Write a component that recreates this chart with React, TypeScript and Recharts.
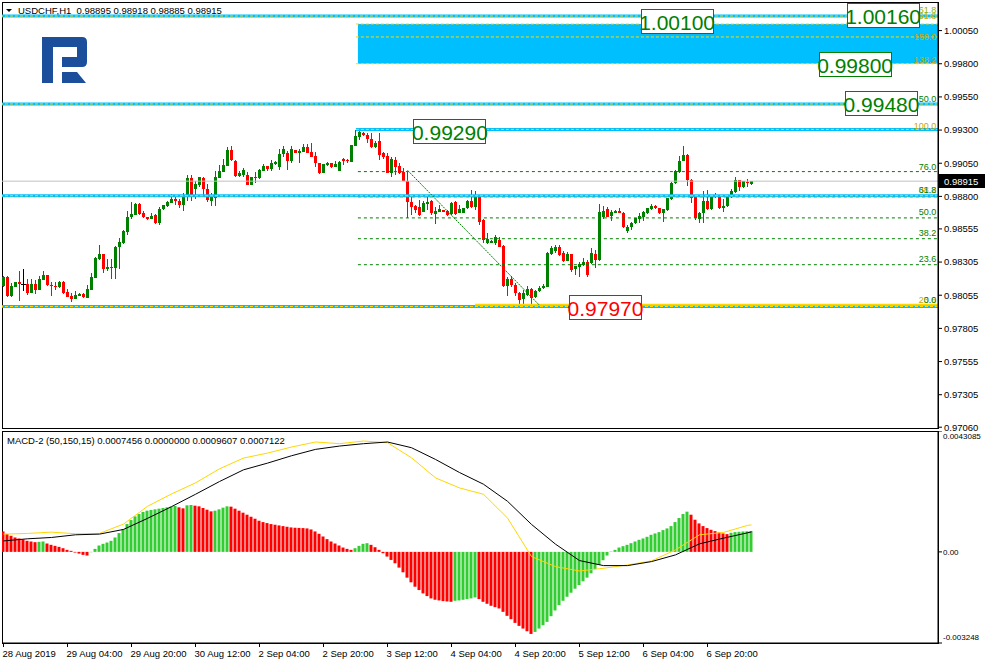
import React from 'react';
import {
  ComposedChart,
  Bar,
  Line,
  XAxis,
  YAxis,
  ReferenceLine,
  ReferenceArea,
  ReferenceDot,
  Cell,
} from 'recharts';

// ---- USDCHF H1 candles (28 Aug 12:00 .. 6 Sep 2019) ----
const symbol = 'USDCHF,H1';

const opens = [
  0.98123, 0.98191, 0.98047, 0.98115, 0.98153, 0.98138, 0.98138, 0.9807, 0.98138, 0.98093,
  0.98168, 0.98206, 0.9813, 0.98123, 0.98115, 0.98153, 0.98077, 0.98047, 0.98025, 0.98047,
  0.98062, 0.98032, 0.98093, 0.98183, 0.98327, 0.98365, 0.98251, 0.98259, 0.98259, 0.98418,
  0.98448, 0.98531, 0.98644, 0.9866, 0.98743, 0.98675, 0.98644, 0.98629, 0.9866, 0.98599,
  0.98705, 0.98728, 0.9875, 0.9878, 0.98765, 0.98735, 0.98811, 0.98939, 0.98856, 0.98886,
  0.98939, 0.98856, 0.98765, 0.98788, 0.98939, 0.98985, 0.9903, 0.99151, 0.99068, 0.98954,
  0.98962, 0.98962, 0.98886, 0.98947, 0.98939, 0.98992, 0.9903, 0.99007, 0.99045, 0.99022,
  0.99121, 0.99128, 0.99068, 0.99151, 0.99128, 0.99136, 0.99173, 0.99136, 0.99105, 0.99052,
  0.98977, 0.99037, 0.99052, 0.99022, 0.98992, 0.99083, 0.99075, 0.9906, 0.99181, 0.99249,
  0.99279, 0.99264, 0.99234, 0.99173, 0.99219, 0.99128, 0.99105, 0.98977, 0.99075, 0.9903,
  0.98985, 0.98916, 0.98758, 0.98728, 0.9872, 0.98682, 0.98743, 0.98765, 0.98667, 0.98682,
  0.98697, 0.9869, 0.98667, 0.98758, 0.98675, 0.98675, 0.98712, 0.98765, 0.9872, 0.98803,
  0.98622, 0.98448, 0.98448, 0.98448, 0.98471, 0.98425, 0.98123, 0.98176, 0.9813, 0.9807,
  0.98025, 0.98055, 0.981, 0.9804, 0.98085, 0.98108, 0.98115, 0.98365, 0.98387, 0.98418,
  0.98372, 0.98312, 0.98365, 0.98251, 0.98266, 0.98281, 0.98304, 0.98297, 0.98365, 0.98319,
  0.98644, 0.98705, 0.98652, 0.98675, 0.9869, 0.98675, 0.98539, 0.98569, 0.98599, 0.98629,
  0.98644, 0.98675, 0.98705, 0.98728, 0.98712, 0.98675, 0.98697, 0.9878, 0.98901, 0.98985,
  0.99068, 0.99113, 0.98924, 0.98796, 0.98629, 0.98675, 0.98765, 0.98705, 0.98796, 0.98811,
  0.98712, 0.98728, 0.98796, 0.98833, 0.98924, 0.98871, 0.98909, 0.98895,
];

const highs = [
  0.98198, 0.98198, 0.98145, 0.98153, 0.98236, 0.98251, 0.98176, 0.98176, 0.98168, 0.98198,
  0.98236, 0.98206, 0.98153, 0.98153, 0.9816, 0.9816, 0.981, 0.9807, 0.98085, 0.9807,
  0.9807, 0.9813, 0.98221, 0.98342, 0.98433, 0.98365, 0.98327, 0.98327, 0.98425, 0.98486,
  0.98546, 0.9869, 0.98758, 0.9875, 0.9875, 0.9869, 0.98644, 0.98675, 0.98667, 0.9872,
  0.98735, 0.98765, 0.98818, 0.98796, 0.9878, 0.98826, 0.98962, 0.98962, 0.98916, 0.98947,
  0.98947, 0.98894, 0.98826, 0.98992, 0.99037, 0.99083, 0.99173, 0.99181, 0.99075, 0.98992,
  0.99015, 0.98985, 0.98947, 0.98985, 0.99007, 0.99045, 0.9903, 0.99075, 0.99068, 0.99158,
  0.99181, 0.99143, 0.99181, 0.99151, 0.99158, 0.99196, 0.99196, 0.99204, 0.99136, 0.99052,
  0.99045, 0.9906, 0.99052, 0.99068, 0.99068, 0.9909, 0.99083, 0.99188, 0.99302, 0.99302,
  0.99287, 0.99279, 0.99279, 0.99219, 0.99279, 0.99136, 0.99128, 0.99098, 0.99098, 0.99052,
  0.99015, 0.98985, 0.98803, 0.98735, 0.98773, 0.98765, 0.98796, 0.98773, 0.9872, 0.98735,
  0.98697, 0.98697, 0.98758, 0.98765, 0.98735, 0.98712, 0.98773, 0.98849, 0.98841, 0.98811,
  0.98629, 0.98523, 0.98471, 0.98508, 0.98493, 0.98433, 0.98191, 0.98198, 0.98145, 0.98077,
  0.98093, 0.98123, 0.98108, 0.98093, 0.98123, 0.98138, 0.9838, 0.98425, 0.98433, 0.98433,
  0.98387, 0.9838, 0.98365, 0.98274, 0.98304, 0.98334, 0.98319, 0.9841, 0.98395, 0.98743,
  0.98728, 0.9872, 0.98697, 0.98697, 0.98712, 0.98682, 0.98584, 0.98607, 0.98637, 0.98675,
  0.9869, 0.98712, 0.98743, 0.98735, 0.98712, 0.98705, 0.98788, 0.98909, 0.99, 0.99105,
  0.99181, 0.99121, 0.98932, 0.98803, 0.98682, 0.98841, 0.98849, 0.98803, 0.98826, 0.98811,
  0.9878, 0.98796, 0.98856, 0.98947, 0.98924, 0.98916, 0.98932, 0.98918,
];

const lows = [
  0.98115, 0.9804, 0.9804, 0.98115, 0.98009, 0.98085, 0.98055, 0.9807, 0.98062, 0.98093,
  0.98168, 0.98123, 0.98047, 0.98093, 0.98108, 0.98062, 0.9804, 0.98002, 0.98025, 0.98047,
  0.98032, 0.98032, 0.98093, 0.98183, 0.98319, 0.98221, 0.98236, 0.98176, 0.98176, 0.98251,
  0.9844, 0.98508, 0.98629, 0.9866, 0.9866, 0.98637, 0.98622, 0.98629, 0.98591, 0.98584,
  0.98697, 0.9872, 0.9875, 0.98735, 0.98712, 0.9869, 0.98765, 0.98765, 0.9878, 0.98871,
  0.98811, 0.98758, 0.98728, 0.98728, 0.98939, 0.98985, 0.9903, 0.99068, 0.98947, 0.98947,
  0.98947, 0.98886, 0.98886, 0.98901, 0.98932, 0.98992, 0.98992, 0.98992, 0.99037, 0.99,
  0.99098, 0.99, 0.99052, 0.99128, 0.99052, 0.99136, 0.99128, 0.99098, 0.99022, 0.98969,
  0.98977, 0.9903, 0.99015, 0.99022, 0.98992, 0.99037, 0.99052, 0.9906, 0.99181, 0.99226,
  0.99257, 0.99204, 0.99166, 0.99166, 0.99075, 0.99083, 0.98977, 0.98947, 0.98962, 0.98969,
  0.98916, 0.98637, 0.9866, 0.98675, 0.98652, 0.98682, 0.98697, 0.9866, 0.98591, 0.98682,
  0.98682, 0.98652, 0.9866, 0.9866, 0.98675, 0.98675, 0.98705, 0.98712, 0.98697, 0.98584,
  0.98448, 0.9844, 0.98448, 0.98433, 0.98418, 0.98115, 0.98047, 0.98115, 0.98047, 0.97979,
  0.97987, 0.98047, 0.97979, 0.98032, 0.98077, 0.981, 0.98115, 0.98357, 0.98372, 0.9835,
  0.98304, 0.98312, 0.98229, 0.98206, 0.98191, 0.98274, 0.98191, 0.98289, 0.98259, 0.98312,
  0.98629, 0.98644, 0.98614, 0.98675, 0.98675, 0.98561, 0.98523, 0.98546, 0.98591, 0.98599,
  0.98614, 0.98667, 0.98697, 0.98705, 0.98667, 0.98607, 0.9869, 0.98773, 0.98894, 0.98977,
  0.99068, 0.98879, 0.9875, 0.98622, 0.98599, 0.98599, 0.98697, 0.98697, 0.98788, 0.98705,
  0.98682, 0.9872, 0.98788, 0.98826, 0.98841, 0.98864, 0.98871, 0.98885,
];

const closes = [
  0.98191, 0.98047, 0.98123, 0.98153, 0.98138, 0.98138, 0.9807, 0.98138, 0.98093, 0.98176,
  0.98206, 0.9813, 0.98123, 0.98118, 0.98153, 0.9807, 0.9804, 0.98025, 0.98055, 0.98062,
  0.9804, 0.981, 0.98191, 0.98334, 0.98365, 0.98251, 0.98266, 0.98266, 0.98418, 0.98455,
  0.98539, 0.98644, 0.98667, 0.98743, 0.98667, 0.98644, 0.98629, 0.98652, 0.98599, 0.98705,
  0.98735, 0.98758, 0.9878, 0.98765, 0.98735, 0.98811, 0.98939, 0.98811, 0.98894, 0.98947,
  0.98856, 0.98773, 0.98796, 0.98947, 0.98992, 0.99037, 0.99151, 0.99075, 0.98954, 0.98977,
  0.99, 0.98886, 0.98947, 0.98939, 0.99, 0.9903, 0.99007, 0.99052, 0.9906, 0.99121,
  0.99158, 0.99068, 0.99158, 0.99128, 0.99143, 0.99173, 0.99128, 0.99098, 0.99052, 0.98977,
  0.99045, 0.99052, 0.99022, 0.99045, 0.9906, 0.99068, 0.99068, 0.99188, 0.99257, 0.99287,
  0.99264, 0.99234, 0.99173, 0.99204, 0.99113, 0.99098, 0.98977, 0.99083, 0.99022, 0.98977,
  0.98916, 0.98758, 0.9872, 0.98697, 0.9866, 0.9875, 0.98758, 0.98675, 0.9869, 0.98705,
  0.98682, 0.9866, 0.9875, 0.98667, 0.98705, 0.98712, 0.98765, 0.9872, 0.98811, 0.98607,
  0.98471, 0.98478, 0.98463, 0.98493, 0.98418, 0.98123, 0.98176, 0.9813, 0.9807, 0.98017,
  0.9807, 0.981, 0.98032, 0.98085, 0.98108, 0.98123, 0.98372, 0.9841, 0.98418, 0.98357,
  0.98312, 0.98365, 0.98244, 0.98274, 0.98289, 0.98304, 0.98206, 0.98372, 0.98319, 0.98682,
  0.9869, 0.98644, 0.98682, 0.9869, 0.98675, 0.98569, 0.98569, 0.98599, 0.98637, 0.98652,
  0.98682, 0.98712, 0.98728, 0.98712, 0.98675, 0.98705, 0.98788, 0.98901, 0.98992, 0.99068,
  0.99113, 0.98924, 0.98788, 0.98637, 0.98675, 0.98765, 0.98705, 0.98796, 0.98811, 0.98712,
  0.98728, 0.98796, 0.98841, 0.98924, 0.98871, 0.98916, 0.98901, 0.98915,
];

const timeTickIdx = [0, 16, 32, 48, 64, 80, 96, 112, 128, 144, 160, 176];
const timeTickLabels = [
  '28 Aug 2019', '29 Aug 04:00', '29 Aug 20:00', '30 Aug 12:00', '2 Sep 04:00', '2 Sep 20:00',
  '3 Sep 12:00', '4 Sep 04:00', '4 Sep 20:00', '5 Sep 12:00', '6 Sep 04:00', '6 Sep 20:00',
];
const priceTicks = [
  1.0005, 0.998, 0.9955, 0.993, 0.9905, 0.988, 0.98555, 0.98305, 0.98055, 0.97805, 0.97555,
  0.97305, 0.9706,
];

// ---- MACD-2 (50,150,15) ----
const macdHist = [
  0.000728, 0.000633, 0.000573, 0.000513, 0.000478, 0.000442, 0.000394, 0.00037, 0.000346, 0.000358,
  0.00037, 0.000298, 0.000251, 0.000215, 0.000179, 0.000131, 0.000072, 0.000036, -0.000024, -0.00006,
  -0.000107, -0.000131, -0.000012, 0.000107, 0.000227, 0.000287, 0.000334, 0.000394, 0.000513, 0.000669,
  0.000812, 0.000991, 0.001134, 0.001265, 0.001349, 0.001421, 0.001468, 0.001492, 0.001516, 0.00154,
  0.001564, 0.001588, 0.001612, 0.001635, 0.001588, 0.001552, 0.001659, 0.001671, 0.001647, 0.001624,
  0.001564, 0.001504, 0.001444, 0.001468, 0.001516, 0.001576, 0.001624, 0.001612, 0.00154, 0.001468,
  0.001397, 0.001325, 0.001253, 0.001182, 0.00111, 0.001062, 0.001027, 0.000991, 0.000967, 0.000943,
  0.000919, 0.000895, 0.000871, 0.00086, 0.000854, 0.000848, 0.000836, 0.0008, 0.000728, 0.000645,
  0.000549, 0.000454, 0.00037, 0.000298, 0.000227, 0.000155, 0.000107, 0.000072, 0.000131, 0.000215,
  0.000287, 0.00031, 0.000251, 0.000167, 0.000072, -0.000048, -0.000167, -0.000287, -0.000406, -0.000561,
  -0.000728, -0.000919, -0.001086, -0.001242, -0.001361, -0.00148, -0.001576, -0.001659, -0.001707, -0.001731,
  -0.001755, -0.001767, -0.001779, -0.001743, -0.001731, -0.001707, -0.001683, -0.001659, -0.001624, -0.001683,
  -0.001779, -0.00185, -0.001922, -0.00197, -0.002017, -0.002137, -0.00228, -0.002399, -0.002531, -0.002638,
  -0.002734, -0.002829, -0.002925, -0.002853, -0.002734, -0.002614, -0.002495, -0.002292, -0.002089, -0.001898,
  -0.001743, -0.0016, -0.001456, -0.001313, -0.001182, -0.00105, -0.000919, -0.000764, -0.000609, -0.000466,
  -0.000298, -0.000131, 0.000012, 0.000072, 0.000155, 0.000203, 0.000251, 0.00031, 0.00037, 0.00043,
  0.000478, 0.000537, 0.000609, 0.000657, 0.000704, 0.000776, 0.000836, 0.000919, 0.001062, 0.001206,
  0.001349, 0.001433, 0.001325, 0.001146, 0.001015, 0.000919, 0.000848, 0.000788, 0.00074, 0.000692,
  0.000657, 0.000633, 0.00068, 0.000704, 0.000716, 0.000728, 0.000734, 0.0007456,
];
const macdLineIdx = [
  0, 6, 12, 18, 24, 30, 36, 42, 48, 54, 60, 66, 72, 78, 84, 90, 96, 102, 108, 114, 120, 126, 132,
  138, 144, 150, 156, 162, 168, 174, 180, 186, 187,
];
const macdMain = [
  0.00039, 0.000466, 0.000513, 0.000609, 0.000633, 0.0008, 0.001194, 0.001612, 0.002053, 0.002507,
  0.002925, 0.003163, 0.003426, 0.003653, 0.003772, 0.003856, 0.003916, 0.003713, 0.003295, 0.002829,
  0.002411, 0.001803, 0.000979, 0.000275, -0.00031, -0.000489, -0.000489, -0.000346, -0.000107, 0.000287,
  0.000489, 0.00068, 0.0007122,
];
const macdSignal = [
  0.000633, 0.000657, 0.000704, 0.000645, 0.000657, 0.000991, 0.001624, 0.002065, 0.002459, 0.00296,
  0.003343, 0.003522, 0.003737, 0.003916, 0.003856, 0.003951, 0.003892, 0.003354, 0.002638, 0.00228,
  0.002053, 0.001206, -0.000167, -0.000525, -0.00068, -0.000585, -0.000466, -0.000322, 0.000072, 0.000609,
  0.000692, 0.000943, 0.0009607,
];
const macdTicks = [0.0043085, 0, -0.003248];
const macdTitle = 'MACD-2 (50,150,15) 0.0007456 0.0000000 0.0009607 0.0007122';

// ---- drawn objects ----
const fullLevels = [1.0016, 0.99497, 0.98805, 0.9797];
const resistanceLevel = 0.99305;
const zoneLow = 0.998;
const zoneHigh = 1.001;
const zoneMid = 1.00002;
const fibPrices = [0.98987, 0.98797, 0.98638, 0.98481, 0.98285, 0.9797];
const trendFrom = { bar: 101, price: 0.98997 };
const trendTo = { bar: 134, price: 0.97979 };

const tagTexts = ['1.00160', '1.00100', '0.99800', '0.99480', '0.99290', '0.97970'];
const tagBars = [219.9, 168.4, 212.9, 219.5, 111.6, 150.5];
const tagPrices = [1.0016, 1.00115, 0.99791, 0.99497, 0.99289, 0.97959];
const tagColors = ['#008000', '#008000', '#008000', '#008000', '#008000', '#FF0000'];

const fibLabelTexts = ['61.8', '61.8', '150.0', '138.2', '50.0', '100.0', '76.0', '38.2', '61.8', '50.0', '38.2', '23.6', '23.6', '0.0'];
const fibLabelPrices = [1.00205, 1.0016, 1.00002, 0.99828, 0.99534, 0.99331, 0.99022, 0.98848, 0.98848, 0.98682, 0.98524, 0.98328, 0.98017, 0.98017];
const fibLabelColors = ['#8DB000', '#C8A800', '#C8A800', '#C8A800', '#008000', '#C8A800', '#008000', '#C8A800', '#008000', '#008000', '#008000', '#008000', '#C8A800', '#008000'];

const GREEN = '#008000';
const RED = '#FF0000';
const BLUE = '#00BFFF';
const GOLD = '#FFD700';
const X_DOMAIN: [number, number] = [-0.375, 233.625];
const PRICE_DOMAIN: [number, number] = [0.970541, 1.002655];
const MACD_DOMAIN: [number, number] = [-0.003248, 0.0043085];
const ZONE_START = 88.6;
const FONT = "'Liberation Sans', Arial, sans-serif";
const TAG_FONT = "'Liberation Sans Narrow', 'Arial Narrow', 'Liberation Sans', sans-serif";

const candleData = opens.map((o, i) => ({
  i,
  o,
  h: highs[i],
  l: lows[i],
  c: closes[i],
  range: [lows[i], highs[i]],
}));

const macdData = macdHist.map((v, i) => {
  const k = macdLineIdx.indexOf(i);
  return { i, hist: v, main: k >= 0 ? macdMain[k] : null, signal: k >= 0 ? macdSignal[k] : null };
});

const last = candleData[candleData.length - 1];
const header = `${symbol}  ${last.o.toFixed(5)} ${last.h.toFixed(5)} ${last.l.toFixed(5)} ${last.c.toFixed(5)}`;

function Candle(props: any) {
  const { x, y, width, height, payload } = props;
  if (!payload) return null;
  const { o, h, l, c } = payload;
  const span = h - l;
  const toY = (v: number) => (span > 0 ? y + ((h - v) / span) * height : y);
  const color = c > o ? GREEN : c < o ? RED : '#000000';
  const top = toY(Math.max(o, c));
  const bot = toY(Math.min(o, c));
  const cx = x + width / 2;
  return (
    <g shapeRendering="crispEdges">
      <line x1={cx} x2={cx} y1={y} y2={y + height} stroke={color} strokeWidth={1} />
      {c === o ? (
        <line x1={x - 1} x2={x + width + 1} y1={top} y2={top} stroke={color} strokeWidth={1} />
      ) : (
        <rect x={x} y={top} width={width} height={Math.max(1, bot - top)} fill={color} />
      )}
    </g>
  );
}

const makeTag = (text: string, color: string) => (p: any) => (
  <g>
    <rect x={p.cx - 36} y={p.cy - 12} width={72} height={24} fill="#fff" stroke={color} strokeWidth={1} shapeRendering="crispEdges" />
    <text x={p.cx} y={p.cy + 8} textAnchor="middle" fontSize={21} fill={color} fontFamily={TAG_FONT}>
      {text}
    </text>
  </g>
);

const makeFibLabel = (text: string, color: string) => (p: any) => (
  <text x={p.cx} y={p.cy + 3} textAnchor="end" fontSize={9} fill={color} fontFamily={FONT}>
    {text}
  </text>
);

function PriceBox(props: any) {
  const { viewBox } = props;
  if (!viewBox) return null;
  const right = viewBox.x + viewBox.width;
  return (
    <g>
      <rect x={right + 1} y={viewBox.y - 7} width={47} height={14} fill="#000" shapeRendering="crispEdges" />
      <text x={right + 6} y={viewBox.y + 4} fontSize={9.5} fill="#fff" fontFamily={FONT}>
        {last.c.toFixed(5)}
      </text>
    </g>
  );
}

function TimeTick(props: any) {
  const { x, y, payload } = props;
  const k = timeTickIdx.indexOf(payload.value);
  return (
    <text x={x - 1} y={y + 8} fontSize={9.5} fill="#000" textAnchor="start" fontFamily={FONT}>
      {k >= 0 ? timeTickLabels[k] : ''}
    </text>
  );
}

function MacdTick(props: any) {
  const { x, y, payload } = props;
  const v = payload.value;
  const dy = v > 0 ? 8 : v < 0 ? -3 : 3;
  const text = v === 0 ? '0.00' : String(v);
  return (
    <text x={x - 1} y={y + dy} fontSize={8} fill="#000" textAnchor="start" fontFamily={FONT}>
      {text}
    </text>
  );
}

function seg(from: number, to: number, p: number) {
  return [
    { x: from, y: p },
    { x: to, y: p },
  ] as any;
}

export default function App() {
  return (
    <div
      style={{
        position: 'absolute',
        left: 0,
        top: 0,
        width: 985,
        height: 665,
        background: '#fff',
        fontFamily: FONT,
        overflow: 'hidden',
      }}
    >
      {/* panel frames */}
      <div style={{ position: 'absolute', left: 2, top: 2, width: 937, height: 427, border: '1px solid #000', boxSizing: 'border-box' }} />
      <div style={{ position: 'absolute', left: 2, top: 431, width: 937, height: 213, border: '1px solid #000', boxSizing: 'border-box' }} />

      <div style={{ position: 'absolute', left: 0, top: 0 }}>
        <ComposedChart width={985} height={434} data={candleData} margin={{ top: 2, right: 0, bottom: 6, left: 2 }}>
          <XAxis type="number" dataKey="i" domain={X_DOMAIN} hide allowDataOverflow />
          <YAxis
            orientation="right"
            type="number"
            domain={PRICE_DOMAIN}
            ticks={priceTicks}
            interval={0}
            width={47}
            allowDataOverflow
            tickSize={4}
            tickMargin={2}
            tickFormatter={(v: number) => v.toFixed(5)}
            axisLine={{ stroke: '#000' }}
            tickLine={{ stroke: '#000' }}
            tick={{ fill: '#000', fontSize: 9.5, fontFamily: FONT }}
          />
          <ReferenceArea x1={ZONE_START} x2={X_DOMAIN[1]} y1={zoneLow} y2={zoneHigh} fill={BLUE} fillOpacity={1} stroke="none" />
          {fibPrices.map((p) => (
            <ReferenceLine key={`fib${p}`} segment={seg(ZONE_START, X_DOMAIN[1], p)} stroke={GREEN} strokeDasharray="3 3" />
          ))}
          <ReferenceLine y={last.c} stroke="#C0C0C0" label={<PriceBox />} />
          {fullLevels.map((p) => (
            <ReferenceLine key={`lvl${p}`} y={p} stroke={BLUE} strokeWidth={3} />
          ))}
          <ReferenceLine segment={seg(88.1, X_DOMAIN[1], resistanceLevel)} stroke={BLUE} strokeWidth={3} />
          {fullLevels.map((p) => (
            <ReferenceLine key={`dl${p}`} y={p} stroke={GOLD} strokeDasharray="3 2" />
          ))}
          {[resistanceLevel, zoneHigh, zoneMid, zoneLow].map((p) => (
            <ReferenceLine key={`dz${p}`} segment={seg(88.1, X_DOMAIN[1], p)} stroke={GOLD} strokeDasharray="3 2" />
          ))}
          <ReferenceLine segment={seg(117.9, X_DOMAIN[1], 0.97983)} stroke={GOLD} strokeWidth={2} />
          <Bar dataKey="range" shape={<Candle />} barSize={3} isAnimationActive={false} />
          <ReferenceLine
            segment={[
              { x: trendFrom.bar, y: trendFrom.price },
              { x: trendTo.bar, y: trendTo.price },
            ] as any}
            stroke={GREEN}
            strokeDasharray="2 1"
          />
          {fibLabelTexts.map((t, k) => (
            <ReferenceDot key={`fl${k}`} x={233.2} y={fibLabelPrices[k]} r={0} shape={makeFibLabel(t, fibLabelColors[k])} />
          ))}
          {tagTexts.map((t, k) => (
            <ReferenceDot key={`tag${k}`} x={tagBars[k]} y={tagPrices[k]} r={0} shape={makeTag(t, tagColors[k])} />
          ))}
        </ComposedChart>
      </div>

      <div style={{ position: 'absolute', left: 0, top: 431 }}>
        <ComposedChart width={985} height={234} data={macdData} margin={{ top: 0, right: 0, bottom: 0, left: 2 }}>
          <XAxis
            type="number"
            dataKey="i"
            domain={X_DOMAIN}
            ticks={timeTickIdx}
            interval={0}
            height={22}
            tickSize={4}
            allowDataOverflow
            axisLine={{ stroke: '#000' }}
            tickLine={{ stroke: '#000' }}
            tick={<TimeTick />}
          />
          <YAxis
            orientation="right"
            type="number"
            domain={MACD_DOMAIN}
            ticks={macdTicks}
            interval={0}
            width={47}
            allowDataOverflow
            tickSize={4}
            tickMargin={2}
            axisLine={{ stroke: '#000' }}
            tickLine={{ stroke: '#000' }}
            tick={<MacdTick />}
          />
          <Bar dataKey="hist" barSize={3} isAnimationActive={false}>
            {macdHist.map((v, i) => (
              <Cell key={i} fill={i > 0 && v > macdHist[i - 1] ? '#32CD32' : '#FF0000'} />
            ))}
          </Bar>
          <Line dataKey="signal" type="linear" stroke={GOLD} strokeWidth={1} dot={false} connectNulls isAnimationActive={false} />
          <Line dataKey="main" type="linear" stroke="#000" strokeWidth={1} dot={false} connectNulls isAnimationActive={false} />
        </ComposedChart>
      </div>

      {/* header texts and logo */}
      <svg width={985} height={665} style={{ position: 'absolute', left: 0, top: 0, pointerEvents: 'none' }}>
        <polygon points="6,9 12,9 9,12" fill="#000" />
        <text x={18} y={14} fontSize={9.5} fill="#000" fontFamily={FONT} style={{ whiteSpace: 'pre' }}>
          {header}
        </text>
        <text x={7} y={444} fontSize={9.5} fill="#000" fontFamily={FONT}>
          {macdTitle}
        </text>
        <g fill="#1B4F9C">
          <path d="M42 37 H82 Q87 37 87 42 V62 Q87 67 82 67 H62 V57 H77 V47 H53 V83 H42 Z" />
          <path d="M62 72 H77 L86 83 H62 Z" />
        </g>
      </svg>
    </div>
  );
}
